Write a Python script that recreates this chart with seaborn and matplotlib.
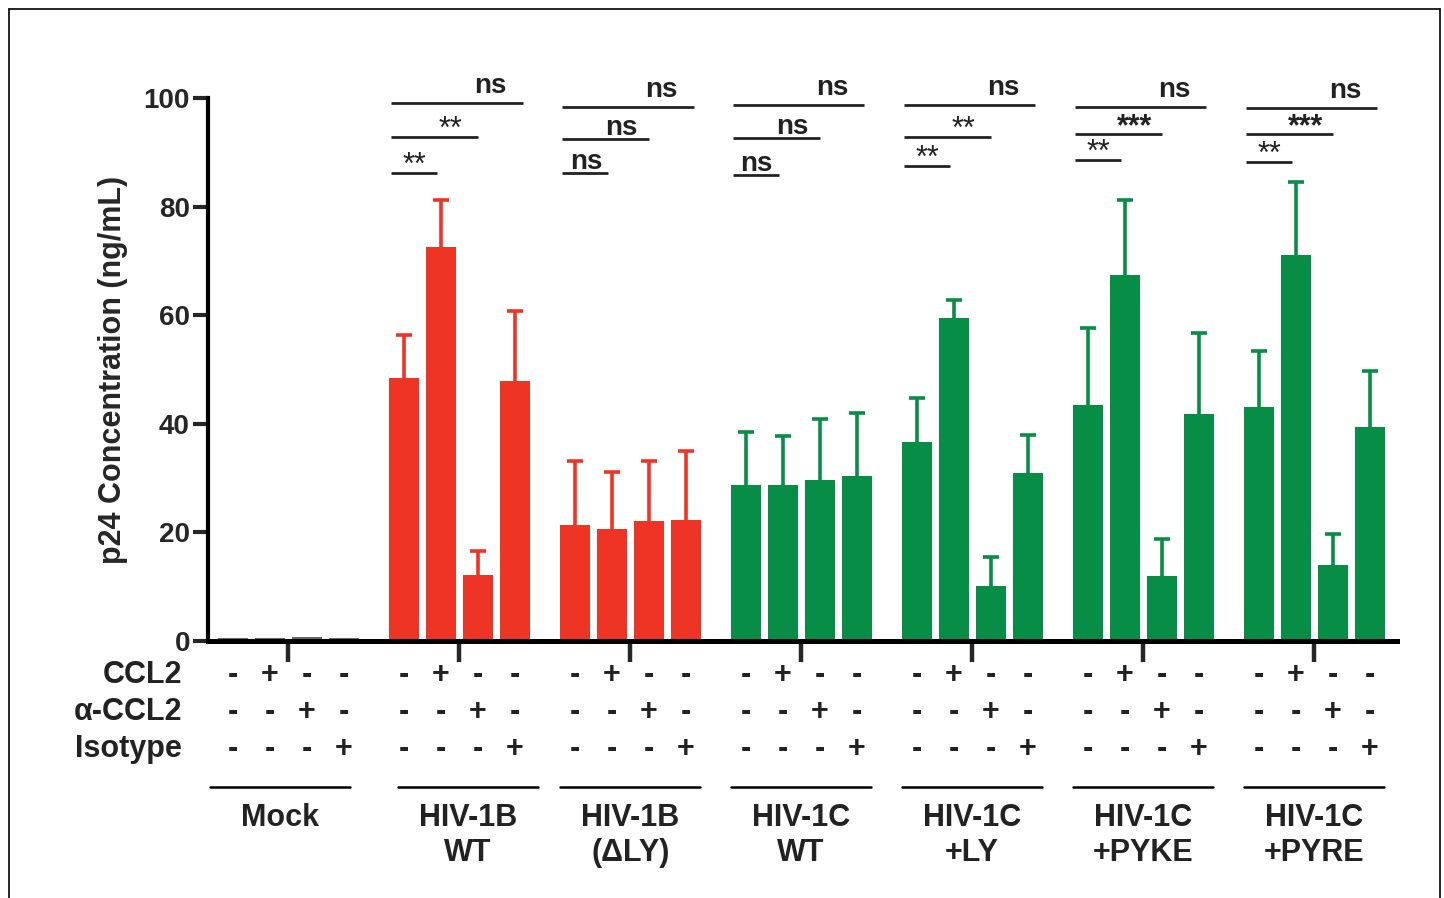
import numpy as np
import pandas as pd
import seaborn as sns
import matplotlib.pyplot as plt
from matplotlib.lines import Line2D
import matplotlib.transforms as mtransforms

# data
groups = ['Mock', 'HIV-1B\nWT', 'HIV-1B\n(\u0394LY)', 'HIV-1C\nWT',
          'HIV-1C\n+LY', 'HIV-1C\n+PYKE', 'HIV-1C\n+PYRE']
treatments = ['none', 'CCL2', 'a-CCL2', 'Isotype']

mock = [0.6, 0.6, 0.7, 0.5]
b_wt = [48.4, 72.6, 12.2, 47.9]
b_dly = [21.4, 20.6, 22.1, 22.3]
c_wt = [28.7, 28.7, 29.7, 30.4]
c_ly = [36.6, 59.5, 10.1, 30.9]
c_pyke = [43.5, 67.4, 12.0, 41.8]
c_pyre = [43.1, 71.1, 14.0, 39.4]

mock_sem = [0, 0, 0, 0]
b_wt_sem = [8.0, 8.6, 4.4, 12.9]
b_dly_sem = [11.7, 10.5, 11.0, 12.7]
c_wt_sem = [9.8, 9.1, 11.2, 11.6]
c_ly_sem = [8.2, 3.3, 5.4, 7.0]
c_pyke_sem = [14.1, 13.8, 6.8, 14.9]
c_pyre_sem = [10.3, 13.4, 5.7, 10.3]

ccl2_row = ['-', '+', '-', '-']
accl2_row = ['-', '-', '+', '-']
iso_row = ['-', '-', '-', '+']
row_names = ['CCL2', '\u03b1-CCL2', 'Isotype']

sig_top = ['ns', 'ns', 'ns', 'ns', 'ns', 'ns']
sig_mid = ['**', 'ns', 'ns', '**', '***', '***']
sig_low = ['**', 'ns', 'ns', '**', '**', '**']

# layout of the significance bars (data units)
y_top = [99.1, 98.3, 98.7, 98.7, 98.3, 98.2]
y_mid = [92.8, 92.4, 92.6, 92.8, 93.4, 93.4]
y_low = [86.2, 86.2, 85.8, 87.5, 88.6, 88.2]

means = [mock, b_wt, b_dly, c_wt, c_ly, c_pyke, c_pyre]
sems = [mock_sem, b_wt_sem, b_dly_sem, c_wt_sem, c_ly_sem, c_pyke_sem, c_pyre_sem]

rows = []
for g, m, s in zip(groups, means, sems):
    for t, v, e in zip(treatments, m, s):
        rows.append({'group': g, 'treat': t, 'p24': v, 'sem': e})
df = pd.DataFrame(rows)

RED = '#EE3424'
GREEN = '#078D45'
group_colors = ['#666666', RED, RED, GREEN, GREEN, GREEN, GREEN]
label_shift = [-0.05, 0.05, 0, 0, 0, 0, 0]

sns.set_style('white')
plt.rcParams['font.family'] = ['Liberation Sans', 'DejaVu Sans']

fig = plt.figure(figsize=(14.44, 8.98), dpi=100)
ax = fig.add_axes([208 / 1444, 1 - 641 / 898, (1397 - 208) / 1444, (641 - 98) / 898])

sns.barplot(data=df, x='group', y='p24', hue='treat', order=groups,
            hue_order=treatments, width=0.865, gap=0.19, errorbar=None,
            legend=False, ax=ax, saturation=1)

bar_conts = list(ax.containers)
bar_x = np.zeros((len(groups), len(treatments)))
for i, cont in enumerate(bar_conts):
    for j, bar in enumerate(cont):
        bar.set_facecolor(group_colors[j])
        bar.set_edgecolor('none')
        cx = bar.get_x() + bar.get_width() / 2
        bar_x[j, i] = cx
        err = sems[j][i]
        if err > 0:
            eb = ax.errorbar(cx, bar.get_height(), yerr=[[0], [err]], fmt='none',
                             ecolor=group_colors[j], elinewidth=2.6, capsize=5.5,
                             capthick=2.6, zorder=1)
            eb[1][0].set_visible(False)  # no lower cap

ax.set_ylim(0, 100)
ax.set_xlim(-0.47, 6.485)
ax.set_yticks([0, 20, 40, 60, 80, 100])
ax.set_xticks(range(len(groups)))
ax.set_xticklabels([''] * len(groups))
ax.set_xlabel('')
ax.set_ylabel('p24 Concentration (ng/mL)', fontsize=22, fontweight='bold')
ax.yaxis.set_label_coords(-0.067, 0.5)
for lab in ax.get_yticklabels():
    lab.set_fontweight('bold')
ax.tick_params(axis='y', length=11, width=3, labelsize=20, pad=2, left=True)
ax.tick_params(axis='x', length=15, width=3.2, bottom=True, direction='out')
for side in ['top', 'right']:
    ax.spines[side].set_visible(False)
ax.spines['left'].set_linewidth(3)
ax.spines['bottom'].set_linewidth(3.6)
ax.spines['left'].set_color('black')
ax.spines['bottom'].set_color('black')

# significance brackets
for k in range(len(sig_top)):
    g = k + 1
    x0 = g - 0.40
    for level, yv, xe, lab, tx in [(0, y_top[k], g + 0.37, sig_top[k], g + 0.18),
                                   (1, y_mid[k], g + 0.11, sig_mid[k], g - 0.05),
                                   (2, y_low[k], g - 0.13, sig_low[k], g - 0.26)]:
        ax.plot([x0, xe], [yv, yv], color='#222222', lw=2, clip_on=False,
                solid_capstyle='butt')
        if lab == 'ns':
            ax.text(tx, yv + (0.7 if level == 0 else -0.3), lab, ha='center',
                    va='bottom', fontsize=20, fontweight='bold',
                    color='#222222', clip_on=False)
        else:
            ax.text(tx, yv - 1.5, lab, ha='center', va='bottom', fontsize=22,
                    fontweight='bold' if lab == '***' else 'normal',
                    color='#222222', clip_on=False)

# treatment table below the axis
trans = mtransforms.blended_transform_factory(ax.transData, ax.transAxes)
row_y = [(641 - 675) / 543, (641 - 712) / 543, (641 - 749) / 543]
for r, (name, signs) in enumerate(zip(row_names, [ccl2_row, accl2_row, iso_row])):
    ax.text((182 - 208) / 1189, row_y[r], name, transform=ax.transAxes,
            ha='right', va='center', fontsize=22, fontweight='bold', color='#222222')
    for j in range(len(groups)):
        for i, s in enumerate(signs):
            ax.text(bar_x[j, i], row_y[r], s, transform=trans, ha='center',
                    va='center', fontsize=22, fontweight='bold', color='#222222')

line_y = (641 - 787) / 543
for j, g in enumerate(groups):
    ax.plot([j - 0.41 + label_shift[j], j + 0.41 + label_shift[j]], [line_y, line_y],
            transform=trans, color='black', lw=1.8, clip_on=False)
    ax.text(j + label_shift[j], (641 - 803) / 543, g, transform=trans, ha='center',
            va='top', fontsize=22, fontweight='bold', color='#222222', linespacing=1.2)

# outer frame
fx0, fx1, fy1 = 9 / 1444, 1440 / 1444, 1 - 9 / 898
for xs, ys in [([fx0, fx1], [fy1, fy1]), ([fx0, fx0], [0, fy1]), ([fx1, fx1], [0, fy1])]:
    fig.add_artist(Line2D(xs, ys, transform=fig.transFigure, color='black', lw=1.2))

fig.savefig('out.png', dpi=100)
